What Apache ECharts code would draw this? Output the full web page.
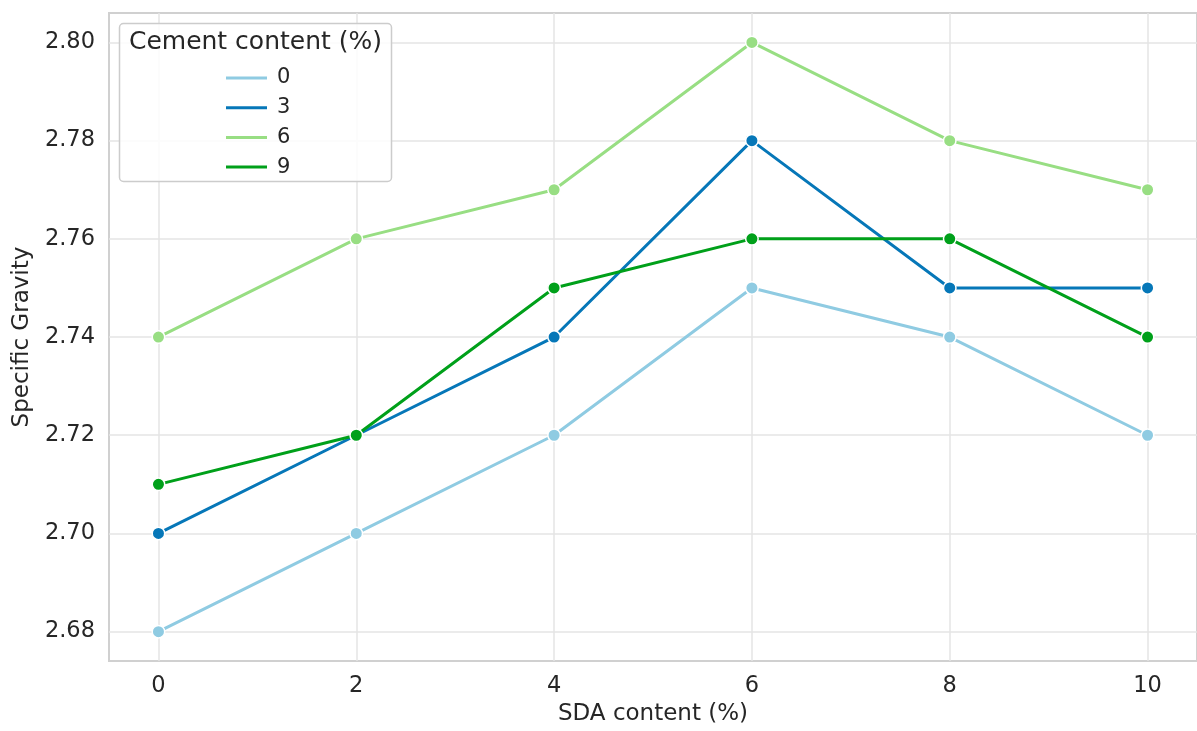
<!DOCTYPE html>
<html>
<head>
<meta charset="utf-8">
<title>Specific Gravity vs SDA content</title>
<script src="https://cdn.jsdelivr.net/npm/echarts@6/dist/echarts.min.js"></script>
<style>
  html, body { margin: 0; padding: 0; background: #ffffff; }
  #chart { width: 1197px; height: 731px; }
</style>
</head>
<body>
<div id="chart"></div>
<script>
// SDA content (%) on the x axis
const sdaContent = [0, 2, 4, 6, 8, 10];
const xTicks = [0, 2, 4, 6, 8, 10];
const yTicks = [2.68, 2.70, 2.72, 2.74, 2.76, 2.78, 2.80];

// Specific gravity for each cement content (%)
const cementLevels = ['0', '3', '6', '9'];
const gravityCement0 = [2.68, 2.70, 2.72, 2.75, 2.74, 2.72];
const gravityCement3 = [2.70, 2.72, 2.74, 2.78, 2.75, 2.75];
const gravityCement6 = [2.74, 2.76, 2.77, 2.80, 2.78, 2.77];
const gravityCement9 = [2.71, 2.72, 2.75, 2.76, 2.76, 2.74];

const seriesValues = [gravityCement0, gravityCement3, gravityCement6, gravityCement9];
const palette = ['#8fcbe2', '#0677b8', '#98de83', '#00a01a'];

const textColor = '#262626';
const fontFamily = 'DejaVu Sans';

const chart = echarts.init(document.getElementById('chart'), null, { renderer: 'canvas' });

const series = cementLevels.map((name, i) => ({
  name: name,
  type: 'line',
  data: sdaContent.map((x, j) => [x, seriesValues[i][j]]),
  symbol: 'circle',
  symbolSize: 12.5,
  showSymbol: true,
  lineStyle: { width: 3, color: palette[i] },
  itemStyle: { color: palette[i], borderColor: '#ffffff', borderWidth: 1.5 },
  emphasis: { disabled: true },
  z: 3 + i
}));

chart.setOption({
  backgroundColor: '#ffffff',
  animation: false,
  textStyle: { fontFamily: fontFamily, color: textColor },
  grid: {
    left: 109, right: -6, top: 13, bottom: 66,
    show: true, borderColor: '#d0d0d0', borderWidth: 2, backgroundColor: 'transparent',
    containLabel: false
  },
  xAxis: {
    type: 'value',
    min: -0.5, max: 10.5,
    name: 'SDA content (%)',
    nameLocation: 'middle',
    nameGap: 36,
    nameTextStyle: { fontSize: 23, color: textColor, fontFamily: fontFamily },
    axisLine: { show: false },
    axisTick: { show: false, customValues: xTicks },
    axisLabel: { customValues: xTicks, fontSize: 22.5, color: textColor, margin: 14, fontFamily: fontFamily },
    splitLine: { show: true, lineStyle: { color: '#e4e4e4', width: 1.5 } }
  },
  yAxis: {
    type: 'value',
    min: 2.674, max: 2.806,
    name: 'Specific Gravity',
    nameLocation: 'middle',
    nameGap: 69,
    nameTextStyle: { fontSize: 23, color: textColor, fontFamily: fontFamily },
    axisLine: { show: false },
    axisTick: { show: false, customValues: yTicks },
    axisLabel: {
      customValues: yTicks, fontSize: 22.5, color: textColor, margin: 14, fontFamily: fontFamily,
      formatter: v => v.toFixed(2)
    },
    splitLine: { show: true, lineStyle: { color: '#e4e4e4', width: 1.5 } }
  },
  legend: {
    orient: 'vertical',
    left: 221, top: 62,
    icon: 'rect',
    itemWidth: 41, itemHeight: 3,
    itemGap: 7.7,
    selectedMode: false,
    itemStyle: { borderWidth: 0 },
    data: cementLevels,
    textStyle: { fontSize: 21, lineHeight: 22, color: textColor, fontFamily: fontFamily, padding: [0, 0, 0, 5] },
    z: 20
  },
  graphic: [
    {
      type: 'rect',
      shape: { x: 119.5, y: 23.5, width: 272, height: 158, r: 4 },
      style: { fill: 'rgba(255,255,255,0.85)', stroke: '#cccccc', lineWidth: 1.5 },
      z: 10
    },
    {
      type: 'text',
      x: 255.5, y: 42,
      style: {
        text: 'Cement content (%)', fontSize: 25, fontFamily: fontFamily,
        fill: textColor, align: 'center', verticalAlign: 'middle'
      },
      z: 11
    }
  ],
  series: series
});
</script>
</body>
</html>
